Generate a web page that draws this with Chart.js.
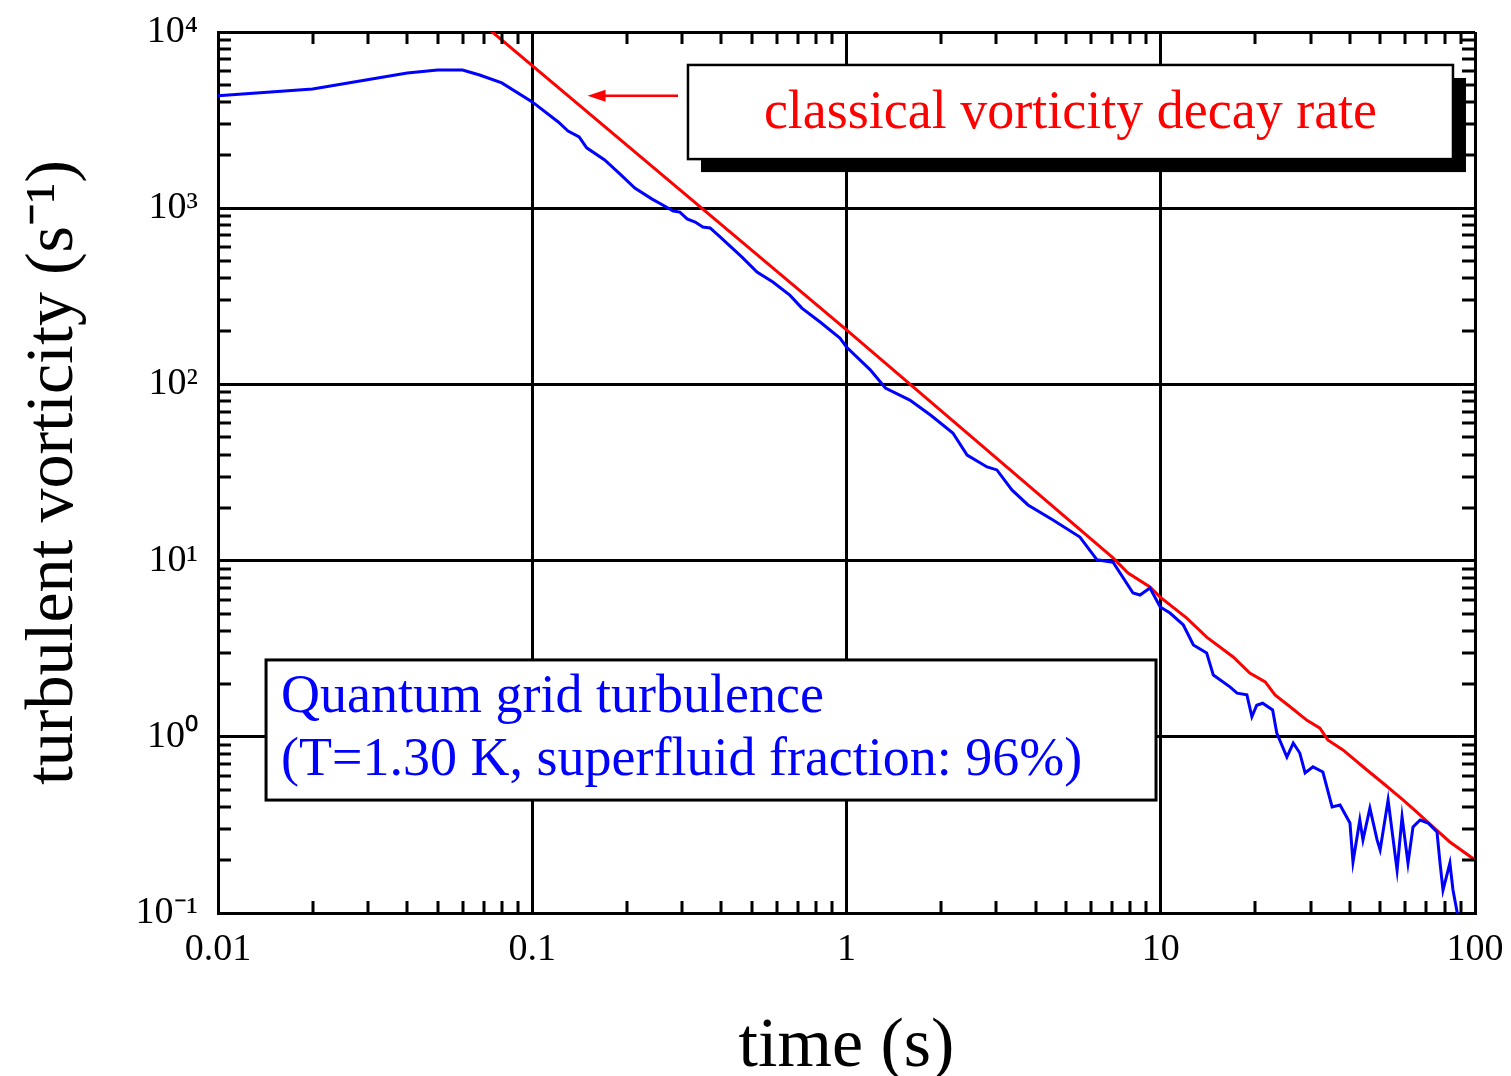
<!DOCTYPE html>
<html>
<head>
<meta charset="utf-8">
<script src="https://cdn.jsdelivr.net/npm/chart.js@4"></script>
<style>
  body { margin: 0; background: #fff; }
</style>
</head>
<body>
<canvas id="vorticityChart" width="1511" height="1076"></canvas>
<script>
// decay of turbulent vorticity
const blueTime = [0.01, 0.02, 0.04, 0.05, 0.06, 0.068, 0.08, 0.1, 0.121, 0.13, 0.141, 0.149, 0.17, 0.19, 0.212, 0.24, 0.261, 0.281, 0.295, 0.311, 0.33, 0.349, 0.368, 0.396, 0.465, 0.519, 0.583, 0.66, 0.721, 0.824, 0.953, 1.0, 1.19, 1.33, 1.59, 1.85, 2.18, 2.42, 2.8, 3.01, 3.36, 3.78, 4.54, 5.53, 6.27, 7.05, 8.16, 8.59, 9.24, 9.96, 10.7, 11.8, 12.7, 14.0, 14.7, 16.6, 17.5, 18.8, 19.5, 20.2, 21.1, 22.7, 23.4, 25.2, 26.4, 27.7, 28.8, 30.5, 32.8, 35.1, 37.2, 40.0, 40.9, 43.0, 44.0, 46.3, 48.8, 49.9, 52.9, 56.5, 58.6, 61.2, 63.5, 66.9, 70.9, 75.7, 77.4, 79.1, 83.2, 85.1, 88.3]
const blueVorticity = [4340, 4750, 5850, 6080, 6080, 5700, 5140, 4010, 3085, 2740, 2535, 2200, 1880, 1565, 1300, 1130, 1040, 964, 951, 869, 835, 782, 772, 687, 528, 434, 381, 321, 271, 226, 183, 163, 121, 95.4, 81.5, 67, 53, 39.7, 34, 32.7, 25.2, 20.7, 17.0, 13.6, 10.1, 9.8, 6.55, 6.38, 6.99, 5.45, 5.04, 4.31, 3.32, 2.99, 2.24, 1.92, 1.77, 1.73, 1.30, 1.51, 1.55, 1.42, 1.05, 0.768, 0.922, 0.809, 0.624, 0.675, 0.631, 0.400, 0.410, 0.324, 0.195, 0.337, 0.260, 0.394, 0.260, 0.228, 0.438, 0.175, 0.351, 0.192, 0.308, 0.337, 0.324, 0.288, 0.192, 0.135, 0.192, 0.135, 0.095]

const redTime = [0.07, 1, 7.05, 7.87, 9.24, 9.96, 12.1, 14.0, 17.0, 19.2, 21.5, 23.1, 25.8, 29.2, 32.1, 34.0, 38.0, 45.3, 50.9, 59.0, 65.3, 73.5, 83.2, 100]
const redVorticity = [11000, 204, 10.35, 8.5, 7.08, 6.21, 4.72, 3.68, 2.84, 2.30, 2.05, 1.73, 1.48, 1.24, 1.12, 0.96, 0.842, 0.648, 0.547, 0.438, 0.374, 0.308, 0.253, 0.200]

const xDecades = [0.01, 0.1, 1, 10, 100]
const xTickLabels = ['0.01', '0.1', '1', '10', '100']
const yDecades = [0.1, 1, 10, 100, 1000, 10000]
const yTickLabels = ['10⁻¹', '10⁰', '10¹', '10²', '10³', '10⁴']

const serif = "'Liberation Serif', 'Times New Roman', serif"

function isDecade(v) {
  const l = Math.log10(v)
  return Math.abs(l - Math.round(l)) < 1e-6
}

// 1..9 x 10^n between the decades
function logTicks(decades) {
  const out = []
  for (let i = 0; i < decades.length - 1; i++) {
    for (let k = 1; k < 10; k++) out.push({ value: +(k * decades[i]).toPrecision(6) })
  }
  out.push({ value: decades[decades.length - 1] })
  return out
}

function labelFor(decades, labels, value) {
  const i = decades.findIndex(d => Math.abs(Math.log10(d) - Math.log10(value)) < 1e-6)
  return i < 0 ? '' : labels[i]
}

// keep the plot box fixed, labels may hang over the edges
function fixBox(scale, size) {
  if (scale.isHorizontal()) scale.height = size
  else scale.width = size
  scale.paddingTop = 0
  scale.paddingBottom = 0
  scale.paddingLeft = 0
  scale.paddingRight = 0
}

// inward minor ticks on all four sides
const frameTicks = {
  id: 'frameTicks',
  afterDatasetsDraw(chart) {
    const { ctx, chartArea: a, scales: { x, y } } = chart
    ctx.save()
    ctx.strokeStyle = '#000'
    ctx.lineWidth = 3
    ctx.beginPath()
    x.ticks.forEach(t => {
      if (isDecade(t.value)) return
      const px = Math.round(x.getPixelForValue(t.value))
      ctx.moveTo(px, a.bottom); ctx.lineTo(px, a.bottom - 12)
      ctx.moveTo(px, a.top); ctx.lineTo(px, a.top + 12)
    })
    y.ticks.forEach(t => {
      if (isDecade(t.value)) return
      const py = Math.round(y.getPixelForValue(t.value))
      ctx.moveTo(a.left, py); ctx.lineTo(a.left + 13, py)
      ctx.moveTo(a.right, py); ctx.lineTo(a.right - 13, py)
    })
    ctx.stroke()
    ctx.restore()
  }
}

// text boxes and arrow
const notes = {
  id: 'notes',
  afterDraw(chart) {
    const { ctx, scales: { x, y } } = chart
    const X = v => x.getPixelForValue(v)
    const Y = v => y.getPixelForValue(v)
    ctx.save()

    // classical box with shadow
    let x1 = X(0.313), x2 = X(85.1), y1 = Y(6500), y2 = Y(1900)
    ctx.fillStyle = '#000'
    ctx.fillRect(x1 + 13, y1 + 13, x2 - x1, y2 - y1)
    ctx.fillStyle = '#fff'
    ctx.fillRect(x1, y1, x2 - x1, y2 - y1)
    ctx.strokeStyle = '#000'
    ctx.lineWidth = 2.5
    ctx.strokeRect(x1, y1, x2 - x1, y2 - y1)
    ctx.fillStyle = '#ff0000'
    ctx.font = '54px ' + serif
    ctx.textAlign = 'center'
    ctx.textBaseline = 'alphabetic'
    ctx.fillText('classical vorticity decay rate', (x1 + x2) / 2, y1 + 63)

    // arrow
    const ay = Y(4340), ax1 = X(0.291), ax2 = X(0.150)
    ctx.strokeStyle = '#ff0000'
    ctx.lineWidth = 2.5
    ctx.beginPath()
    ctx.moveTo(ax1, ay); ctx.lineTo(ax2 + 14, ay)
    ctx.stroke()
    ctx.fillStyle = '#ff0000'
    ctx.beginPath()
    ctx.moveTo(ax2, ay); ctx.lineTo(ax2 + 18, ay - 6); ctx.lineTo(ax2 + 18, ay + 6)
    ctx.closePath()
    ctx.fill()

    // quantum box
    x1 = X(0.01422); x2 = X(9.66); y1 = Y(2.73); y2 = Y(0.4375)
    ctx.fillStyle = '#fff'
    ctx.fillRect(x1, y1, x2 - x1, y2 - y1)
    ctx.strokeStyle = '#000'
    ctx.lineWidth = 3
    ctx.strokeRect(x1, y1, x2 - x1, y2 - y1)
    ctx.fillStyle = '#0000ff'
    ctx.textAlign = 'left'
    ctx.fillText('Quantum grid turbulence', x1 + 15, y1 + 52)
    ctx.fillText('(T=1.30 K, superfluid fraction: 96%)', x1 + 15, y1 + 115)

    ctx.restore()
  }
}

const blueData = blueTime.map((t, i) => ({ x: t, y: blueVorticity[i] }))
const redData = redTime.map((t, i) => ({ x: t, y: redVorticity[i] }))

const config = {
  type: 'line',
  data: {
    datasets: [{
      label: 'Quantum grid turbulence',
      data: blueData,
      borderColor: '#0000ff',
      borderWidth: 3,
      pointRadius: 0,
      tension: 0
    }, {
      label: 'classical vorticity decay rate',
      data: redData,
      borderColor: '#ff0000',
      borderWidth: 3,
      pointRadius: 0,
      tension: 0
    }]
  },
  options: {
    responsive: false,
    animation: false,
    devicePixelRatio: 1,
    layout: { padding: { top: 32, right: 36, left: 0, bottom: 0 } },
    plugins: {
      legend: { display: false },
      tooltip: { enabled: false }
    },
    scales: {
      x: {
        type: 'logarithmic',
        min: 0.01,
        max: 100,
        afterBuildTicks: scale => { scale.ticks = logTicks(xDecades) },
        afterFit: scale => fixBox(scale, 163),
        grid: {
          color: c => (c.tick && isDecade(c.tick.value)) ? '#000' : 'rgba(0,0,0,0)',
          lineWidth: 3,
          drawTicks: false
        },
        border: { display: true, color: '#000', width: 3 },
        ticks: {
          autoSkip: false,
          maxRotation: 0,
          padding: 14,
          color: '#000',
          font: { family: serif, size: 38 },
          callback: v => labelFor(xDecades, xTickLabels, v)
        },
        title: {
          display: true,
          text: 'time (s)',
          color: '#000',
          padding: 0,
          font: { family: serif, size: 70, lineHeight: 0.8 }
        }
      },
      y: {
        type: 'logarithmic',
        min: 0.1,
        max: 10000,
        afterBuildTicks: scale => { scale.ticks = logTicks(yDecades) },
        afterFit: scale => fixBox(scale, 218),
        grid: {
          color: c => (c.tick && isDecade(c.tick.value)) ? '#000' : 'rgba(0,0,0,0)',
          lineWidth: 3,
          drawTicks: false
        },
        border: { display: true, color: '#000', width: 3 },
        ticks: {
          autoSkip: false,
          padding: 20,
          color: '#000',
          font: { family: serif, size: 38 },
          callback: v => labelFor(yDecades, yTickLabels, v)
        },
        title: {
          display: true,
          text: 'turbulent vorticity (s⁻¹)',
          color: '#000',
          padding: { top: 13, bottom: 0 },
          font: { family: serif, size: 68, lineHeight: 1.2 }
        }
      }
    }
  },
  plugins: [frameTicks, notes]
}

const vorticityChart = new Chart(document.getElementById('vorticityChart'), config)
</script>
</body>
</html>
